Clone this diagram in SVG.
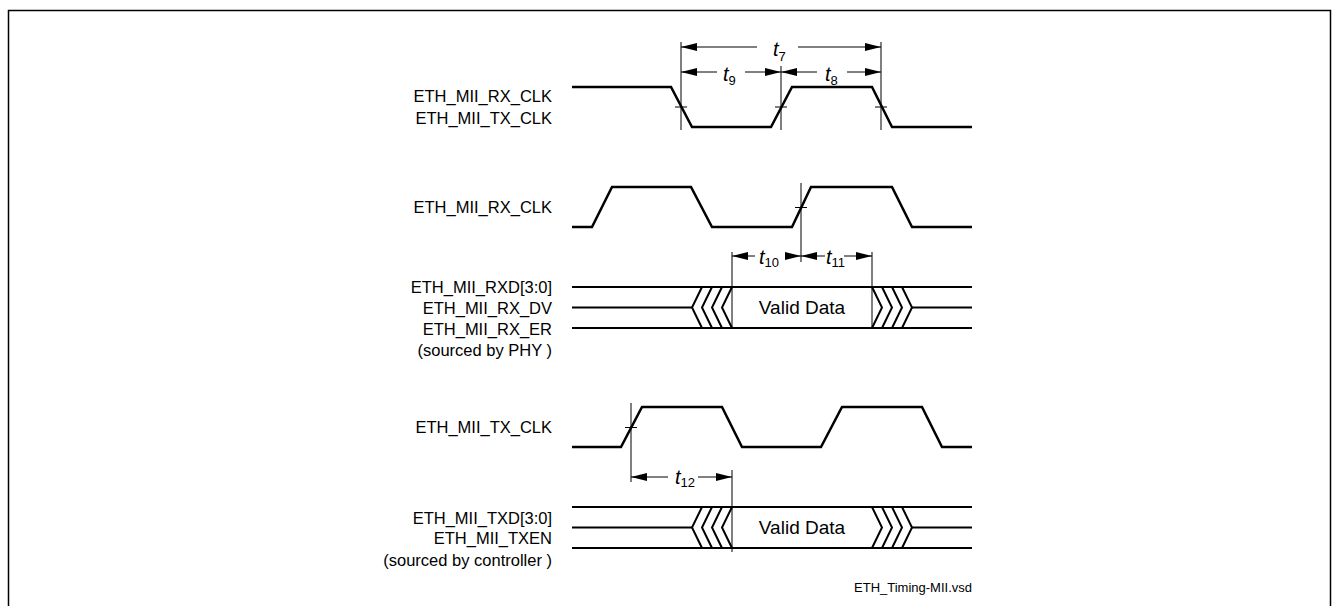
<svg xmlns="http://www.w3.org/2000/svg" width="1332" height="606" viewBox="0 0 1332 606">
<style>
.lbl{font-family:"Liberation Sans",Arial,sans-serif;font-size:16.5px;fill:#000;text-anchor:end}
.vd{font-family:"Liberation Sans",Arial,sans-serif;font-size:19px;fill:#000;text-anchor:middle}
.tt{font-family:"Liberation Sans",Arial,sans-serif;font-size:20px;font-style:italic;fill:#000}
.sub{font-style:normal;font-size:13px}
.fn{font-family:"Liberation Sans",Arial,sans-serif;font-size:13px;fill:#000;text-anchor:end}
.clk{fill:none;stroke:#000;stroke-width:2.5;stroke-linejoin:miter}
.bus{fill:none;stroke:#000;stroke-width:2}
.dim{fill:none;stroke:#000;stroke-width:1}
</style>
<defs>
<marker id="ah" viewBox="0 0 16 8" refX="16" refY="4" markerWidth="16" markerHeight="8" markerUnits="userSpaceOnUse" orient="auto">
<path d="M0,0 L16,4 L0,8 Z" fill="#000"/>
</marker>
</defs>
<rect width="1332" height="606" fill="#fff"/>
<path d="M8.5,606 V10.5 H1330.5 V606" fill="none" stroke="#000" stroke-width="1.5"/>

<g id="sig-clk-top">
<text class="lbl" x="552" y="102">ETH_MII_RX_CLK</text>
<text class="lbl" x="552" y="124">ETH_MII_TX_CLK</text>
<path class="clk" d="M572,87 H671 L692,127 H771 L792,87 H872 L892,127 H972"/>
</g>

<g id="sig-rx-clk">
<text class="lbl" x="552" y="213">ETH_MII_RX_CLK</text>
<path class="clk" d="M572,227 H592 L612,187 H691 L712,227 H792 L811,187 H892 L912,227 H972"/>
</g>

<g id="sig-rx-data">
<text class="lbl" x="552" y="293">ETH_MII_RXD[3:0]</text>
<text class="lbl" x="552" y="314">ETH_MII_RX_DV</text>
<text class="lbl" x="552" y="335">ETH_MII_RX_ER</text>
<text class="lbl" x="552" y="356">(sourced by PHY )</text>
<path class="bus" d="M572,287 H972 M572,328 H972 M572,307.5 H692 M912,307.5 H972"/>
<path class="bus" d="M702,287 L692,307.5 L702,328 M712,287 L702,307.5 L712,328 M722,287 L712,307.5 L722,328 M732,287 L722,307.5 L732,328"/>
<path class="bus" d="M872,287 L882,307.5 L872,328 M882,287 L892,307.5 L882,328 M892,287 L902,307.5 L892,328 M902,287 L912,307.5 L902,328"/>
<text class="vd" x="802" y="314">Valid Data</text>
</g>

<g id="sig-tx-clk">
<text class="lbl" x="552" y="433">ETH_MII_TX_CLK</text>
<path class="clk" d="M572,447 H621 L642,407 H722 L742,447 H821 L842,407 H922 L942,447 H972"/>
</g>

<g id="sig-tx-data">
<text class="lbl" x="552" y="524">ETH_MII_TXD[3:0]</text>
<text class="lbl" x="552" y="544">ETH_MII_TXEN</text>
<text class="lbl" x="552" y="566">(sourced by controller )</text>
<path class="bus" d="M572,507 H972 M572,548 H972 M572,527.5 H692 M912,527.5 H972"/>
<path class="bus" d="M702,507 L692,527.5 L702,548 M712,507 L702,527.5 L712,548 M722,507 L712,527.5 L722,548 M732,507 L722,527.5 L732,548"/>
<path class="bus" d="M872,507 L882,527.5 L872,548 M882,507 L892,527.5 L882,548 M892,507 L902,527.5 L892,548 M902,507 L912,527.5 L902,548"/>
<text class="vd" x="802" y="534">Valid Data</text>
</g>

<g id="connectors">
<path class="dim" d="M681,42 V130 M781,66 V130 M881,42 V130"/>
<path class="dim" d="M675,107 H687 M775,107 H787 M875,107 H887"/>
<path class="dim" d="M801,183 V262 M795,207.5 H807"/>
<path class="dim" d="M732,252 V329 M872,252 V329"/>
<path class="dim" d="M631,403 V482 M625,427.5 H637"/>
<path class="dim" d="M732,470 V552"/>
<path class="dim" d="M757,47 H681" marker-end="url(#ah)"/>
<path class="dim" d="M798,47 H881" marker-end="url(#ah)"/>
<path class="dim" d="M717,72 H681" marker-end="url(#ah)"/>
<path class="dim" d="M745,72 H781" marker-end="url(#ah)"/>
<path class="dim" d="M817,72 H781" marker-end="url(#ah)"/>
<path class="dim" d="M847,72 H881" marker-end="url(#ah)"/>
<path class="dim" d="M755,256 H732" marker-end="url(#ah)"/>
<path class="dim" d="M785,256 H801" marker-end="url(#ah)"/>
<path class="dim" d="M825,256 H801" marker-end="url(#ah)"/>
<path class="dim" d="M844,256 H872" marker-end="url(#ah)"/>
<path class="dim" d="M668,477 H631" marker-end="url(#ah)"/>
<path class="dim" d="M698,477 H732" marker-end="url(#ah)"/>
</g>

<g id="timing-labels">
<text class="tt" x="773" y="56">t<tspan class="sub" dy="5">7</tspan></text>
<text class="tt" x="723" y="81">t<tspan class="sub" dy="4">9</tspan></text>
<text class="tt" x="825" y="81">t<tspan class="sub" dy="4">8</tspan></text>
<text class="tt" x="759" y="264">t<tspan class="sub" dy="3">10</tspan></text>
<text class="tt" x="826" y="264">t<tspan class="sub" dy="3">11</tspan></text>
<text class="tt" x="675" y="484">t<tspan class="sub" dy="3">12</tspan></text>
</g>

<text class="fn" x="972" y="592">ETH_Timing-MII.vsd</text>
</svg>
